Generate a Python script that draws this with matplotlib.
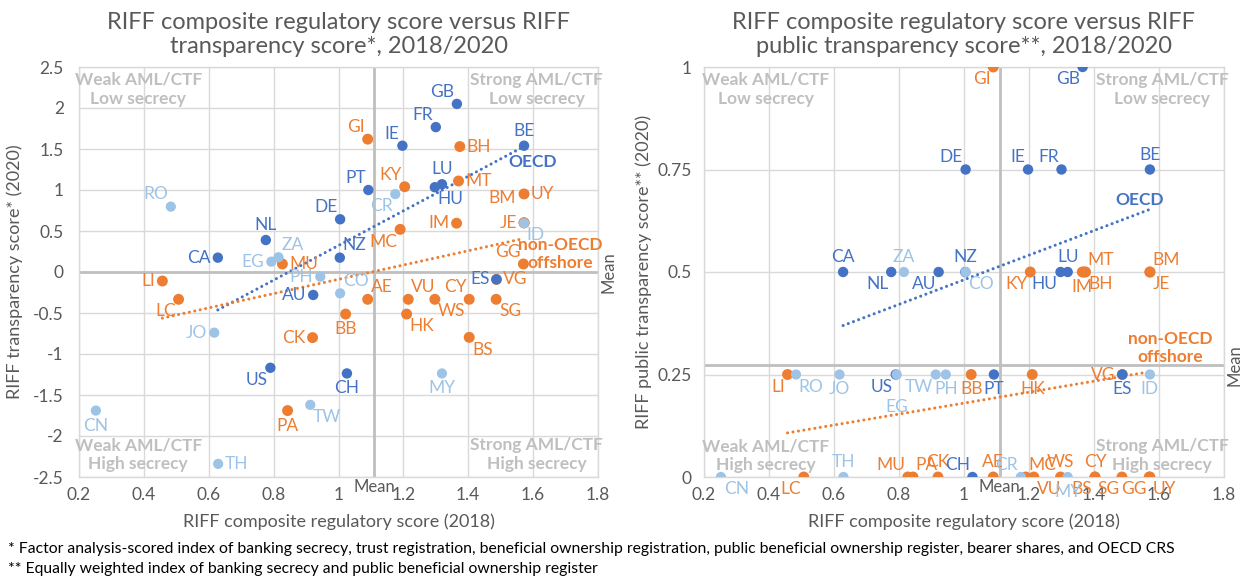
import numpy as np
import matplotlib
matplotlib.use("Agg")
import matplotlib.pyplot as plt

plt.rcParams['font.family'] = ['Lato', 'DejaVu Sans']

# ---------------- data ----------------
# OECD (dark blue)
oecd_codes = ['GB', 'FR', 'IE', 'BE', 'PT', 'LU', 'HU', 'DE', 'NL', 'CA', 'NZ', 'AU', 'US', 'CH', 'ES']
oecd_reg = [1.365, 1.30, 1.197, 1.572, 1.092, 1.319, 1.297, 1.005, 0.776, 0.628, 1.004, 0.922, 0.79, 1.026, 1.487]
oecd_transp = [2.05, 1.767, 1.54, 1.54, 1.0, 1.07, 1.034, 0.643, 0.39, 0.175, 0.175, -0.28, -1.168, -1.237, -0.09]
oecd_public = [1.0, 0.75, 0.75, 0.75, 0.25, 0.5, 0.5, 0.75, 0.5, 0.5, 0.5, 0.5, 0.25, 0.0, 0.25]

# non-OECD offshore (orange)
off_codes = ['GI', 'BH', 'KY', 'MT', 'UY', 'IM', 'MC', 'GG', 'VG', 'AE', 'VU', 'WS', 'CY', 'SG',
             'HK', 'BS', 'BB', 'CK', 'PA', 'MU', 'LI', 'LC', 'BM', 'JE']
off_reg = [1.09, 1.374, 1.204, 1.37, 1.572, 1.364, 1.19, 1.57, 1.487, 1.09, 1.215, 1.297, 1.403, 1.486,
           1.21, 1.403, 1.022, 0.92, 0.843, 0.827, 0.457, 0.507, 1.572, 1.572]
off_transp = [1.62, 1.53, 1.04, 1.11, 0.952, 0.595, 0.52, 0.098, -0.09, -0.333, -0.333, -0.333, -0.333, -0.333,
              -0.513, -0.797, -0.513, -0.80, -1.69, 0.098, -0.11, -0.333, 0.6, 0.6]
off_public = [1.0, 0.5, 0.5, 0.5, 0.0, 0.5, 0.0, 0.0, 0.25, 0.0, 0.0, 0.0, 0.0, 0.0,
              0.25, 0.0, 0.25, 0.0, 0.0, 0.0, 0.25, 0.0, 0.5, 0.5]

# other (light blue)
oth_codes = ['RO', 'ZA', 'EG', 'PH', 'CO', 'CR', 'JO', 'CN', 'TW', 'TH', 'MY', 'ID']
oth_reg = [0.483, 0.815, 0.793, 0.944, 1.005, 1.175, 0.617, 0.252, 0.913, 0.629, 1.319, 1.572]
oth_transp = [0.797, 0.18, 0.126, -0.057, -0.26, 0.95, -0.74, -1.69, -1.62, -2.34, -1.237, 0.595]
oth_public = [0.25, 0.5, 0.25, 0.25, 0.5, 0.0, 0.25, 0.0, 0.25, 0.0, 0.0, 0.25]

mean_reg = 1.11
mean_transp = 0.0
mean_public = 0.272

x_ticks = [0.2, 0.4, 0.6, 0.8, 1.0, 1.2, 1.4, 1.6, 1.8]
x_ticklabels = ['0.2', '0.4', '0.6', '0.8', '1', '1.2', '1.4', '1.6', '1.8']
yl_ticks = [2.5, 2, 1.5, 1, 0.5, 0, -0.5, -1, -1.5, -2, -2.5]
yl_ticklabels = ['2.5', '2', '1.5', '1', '0.5', '0', '-0.5', '-1', '-1.5', '-2', '-2.5']
yr_ticks = [0, 0.25, 0.5, 0.75, 1]
yr_ticklabels = ['0', '0.25', '0.5', '0.75', '1']

# label placement (style only)
pos_left = {
    'GB': 'al', 'FR': 'al', 'GI': 'al', 'IE': 'al', 'BH': 'r', 'BE': 'a', 'PT': 'al', 'KY': 'al',
    'CR': 'bl', 'LU': 'a', 'HU': 'br', 'MT': 'r', 'UY': 'r', 'BM': 'al2', 'JE': 'l', 'ID': 'br',
    'IM': 'l', 'MC': 'bl', 'GG': 'al', 'ES': 'l', 'VG': 'r', 'AE': 'ar', 'VU': 'ar', 'WS': 'br',
    'CY': 'al', 'SG': 'br', 'HK': 'br', 'BS': 'br', 'MY': 'b', 'CH': 'b', 'BB': 'b',
    'RO': 'al', 'NL': 'a', 'CA': 'l', 'DE': 'al', 'ZA': 'ar', 'EG': 'l', 'MU': 'r', 'NZ': 'ar',
    'PH': 'l', 'CO': 'ar', 'AU': 'l', 'LI': 'l', 'LC': 'bl', 'JO': 'l', 'CK': 'l', 'US': 'bl',
    'CN': 'b', 'PA': 'b', 'TW': 'br', 'TH': 'r',
}
pos_right = {
    'GI': 'bl', 'GB': 'bl', 'DE': 'al', 'IE': 'al', 'FR': 'al', 'BE': 'a', 'CA': 'a', 'ZA': 'a',
    'NL': 'bl', 'AU': 'bl', 'NZ': 'a', 'CO': 'br', 'KY': 'bl', 'LU': 'a', 'HU': 'bl', 'IM': 'b',
    'MT': 'ar', 'BH': 'br', 'BM': 'ar', 'JE': 'br', 'LI': 'bl', 'RO': 'br', 'JO': 'b', 'US': 'bl',
    'EG': 'b2', 'TW': 'bl', 'PH': 'b', 'BB': 'b', 'PT': 'b', 'HK': 'b', 'VG': 'l', 'ES': 'b',
    'ID': 'b', 'CN': 'br', 'LC': 'bl', 'TH': 'a', 'MU': 'al', 'PA': 'ar', 'CK': 'a', 'CH': 'al',
    'AE': 'a', 'CR': 'al', 'MC': 'ar', 'VU': 'br', 'WS': 'a', 'MY': 'b', 'CY': 'a', 'BS': 'bl',
    'SG': 'bl', 'GG': 'bl', 'UY': 'br',
}
offsets = {
    'l': ((-5, 0), 'right', 'center'),
    'r': ((5, 0), 'left', 'center'),
    'a': ((0, 5), 'center', 'bottom'),
    'b': ((0, -5), 'center', 'top'),
    'b2': ((0, -18), 'center', 'top'),
    'al': ((-2, 3), 'right', 'bottom'),
    'al2': ((-6, 12), 'right', 'bottom'),
    'ar': ((2, 3), 'left', 'bottom'),
    'bl': ((-2, -3), 'right', 'top'),
    'br': ((2, -3), 'left', 'top'),
}

BLUE = '#4472C4'
ORANGE = '#ED7D31'
LBLUE = '#9DC3E6'
GRID = '#D9D9D9'
TXT = '#595959'
QUAD = '#BFBFBF'
MEANC = '#BFBFBF'
LBL_FS = 12.5

fig = plt.figure(figsize=(12.45, 5.78), dpi=100)
axL = fig.add_axes([79 / 1245, 1 - 477 / 578, 519 / 1245, 410 / 578])
axR = fig.add_axes([704 / 1245, 1 - 477 / 578, 520 / 1245, 410 / 578])


def trend(ax, xs, ys, color):
    xs = np.asarray(xs)
    ys = np.asarray(ys)
    m, b = np.polyfit(xs, ys, 1)
    xx = np.array([xs.min(), xs.max()])
    ax.plot(xx, m * xx + b, color=color, lw=2.2, linestyle=(0, (0.01, 1.8)),
            dash_capstyle='round', zorder=3)


def setup(ax, yticks, yticklabels, ylim, mean_x, mean_y, ypad):
    ax.set_xlim(0.2, 1.8)
    ax.set_ylim(*ylim)
    ax.set_xticks(x_ticks)
    ax.set_xticklabels(x_ticklabels)
    ax.set_yticks(yticks)
    ax.set_yticklabels(yticklabels)
    ax.grid(True, color=GRID, lw=1.0, zorder=0)
    ax.set_axisbelow(True)
    for s in ax.spines.values():
        s.set_color(GRID)
        s.set_linewidth(1.0)
    ax.tick_params(length=0, labelsize=12.5, colors=TXT)
    ax.tick_params(axis='x', pad=7)
    ax.tick_params(axis='y', pad=ypad)
    ax.axvline(mean_x, color=MEANC, lw=2, zorder=1)
    ax.axhline(mean_y, color=MEANC, lw=2, zorder=1)
    ax.text(mean_x, -0.005, 'Mean', transform=ax.get_xaxis_transform(), ha='center', va='top',
            fontsize=12, color=TXT)
    ax.text(1.004, mean_y, 'Mean', transform=ax.get_yaxis_transform(), ha='left', va='center',
            rotation=90, fontsize=12, color=TXT)


def quadrants(ax, xl, xr, yt, yb):
    kw = dict(transform=ax.transAxes, fontsize=12.5, color=QUAD, fontweight='bold',
              ha='center', linespacing=1.2)
    ax.text(xl, yt, 'Weak AML/CTF\nLow secrecy', va='top', **kw)
    ax.text(xr, yt, 'Strong AML/CTF\nLow secrecy', va='top', **kw)
    ax.text(xl, yb, 'Weak AML/CTF\nHigh secrecy', va='bottom', **kw)
    ax.text(xr, yb, 'Strong AML/CTF\nHigh secrecy', va='bottom', **kw)


def draw(ax, ykey, pos):
    groups = [
        (off_codes, off_reg, {'t': off_transp, 'p': off_public}[ykey], ORANGE, 62),
        (oecd_codes, oecd_reg, {'t': oecd_transp, 'p': oecd_public}[ykey], BLUE, 56),
        (oth_codes, oth_reg, {'t': oth_transp, 'p': oth_public}[ykey], LBLUE, 54),
    ]
    for z, (codes, xs, ys, col, s) in enumerate(groups):
        ax.scatter(xs, ys, s=s, color=col, edgecolors='none', zorder=4 + z)
        for c, x, y in zip(codes, xs, ys):
            (dx, dy), ha, va = offsets[pos[c]]
            ax.annotate(c, (x, y), xytext=(dx, dy), textcoords='offset points', ha=ha, va=va,
                        fontsize=LBL_FS, color=col, zorder=8)


# ---------- left ----------
setup(axL, yl_ticks, yl_ticklabels, (-2.5, 2.5), mean_reg, mean_transp, 11)
trend(axL, oecd_reg, oecd_transp, BLUE)
trend(axL, off_reg, off_transp, ORANGE)
draw(axL, 't', pos_left)
quadrants(axL, 0.114, 0.882, 0.988, 0.012)
axL.text(1.597, 1.347, 'OECD', ha='center', va='center', fontsize=LBL_FS, fontweight='bold', color=BLUE)
axL.text(1.684, 0.22, 'non-OECD\noffshore', ha='center', va='center', fontsize=LBL_FS,
         fontweight='bold', color=ORANGE, linespacing=1.1)
axL.set_xlabel('RIFF composite regulatory score (2018)', fontsize=13, color=TXT, labelpad=8)
axL.set_ylabel('RIFF transparency score* (2020)', fontsize=13, color=TXT, labelpad=7)
axL.text(0.5, 1.025, 'RIFF composite regulatory score versus RIFF\ntransparency score*, 2018/2020',
         transform=axL.transAxes, ha='center', va='bottom', fontsize=17, color=TXT, linespacing=1.15)

# ---------- right ----------
setup(axR, yr_ticks, yr_ticklabels, (0, 1), mean_reg, mean_public, 9)
trend(axR, oecd_reg, oecd_public, BLUE)
trend(axR, off_reg, off_public, ORANGE)
draw(axR, 'p', pos_right)
quadrants(axR, 0.119, 0.881, 0.988, 0.01)
axR.text(1.54, 0.676, 'OECD', ha='center', va='center', fontsize=LBL_FS, fontweight='bold', color=BLUE)
axR.text(1.634, 0.315, 'non-OECD\noffshore', ha='center', va='center', fontsize=LBL_FS,
         fontweight='bold', color=ORANGE, linespacing=1.1)
axR.set_xlabel('RIFF composite regulatory score (2018)', fontsize=13, color=TXT, labelpad=8)
axR.set_ylabel('RIFF public transparency score** (2020)', fontsize=13, color=TXT, labelpad=4)
axR.text(0.5, 1.025, 'RIFF composite regulatory score versus RIFF\npublic transparency score**, 2018/2020',
         transform=axR.transAxes, ha='center', va='bottom', fontsize=17, color=TXT, linespacing=1.15)

fig.text(8 / 1245, 1 - 549 / 578,
         '* Factor analysis-scored index of banking secrecy, trust registration, beneficial ownership '
         'registration, public beneficial ownership register, bearer shares, and OECD CRS',
         ha='left', va='center', fontsize=11.3, color='black')
fig.text(8 / 1245, 1 - 569 / 578,
         '** Equally weighted index of banking secrecy and public beneficial ownership register',
         ha='left', va='center', fontsize=11.3, color='black')

fig.savefig('out.png', dpi=100, facecolor='white')
